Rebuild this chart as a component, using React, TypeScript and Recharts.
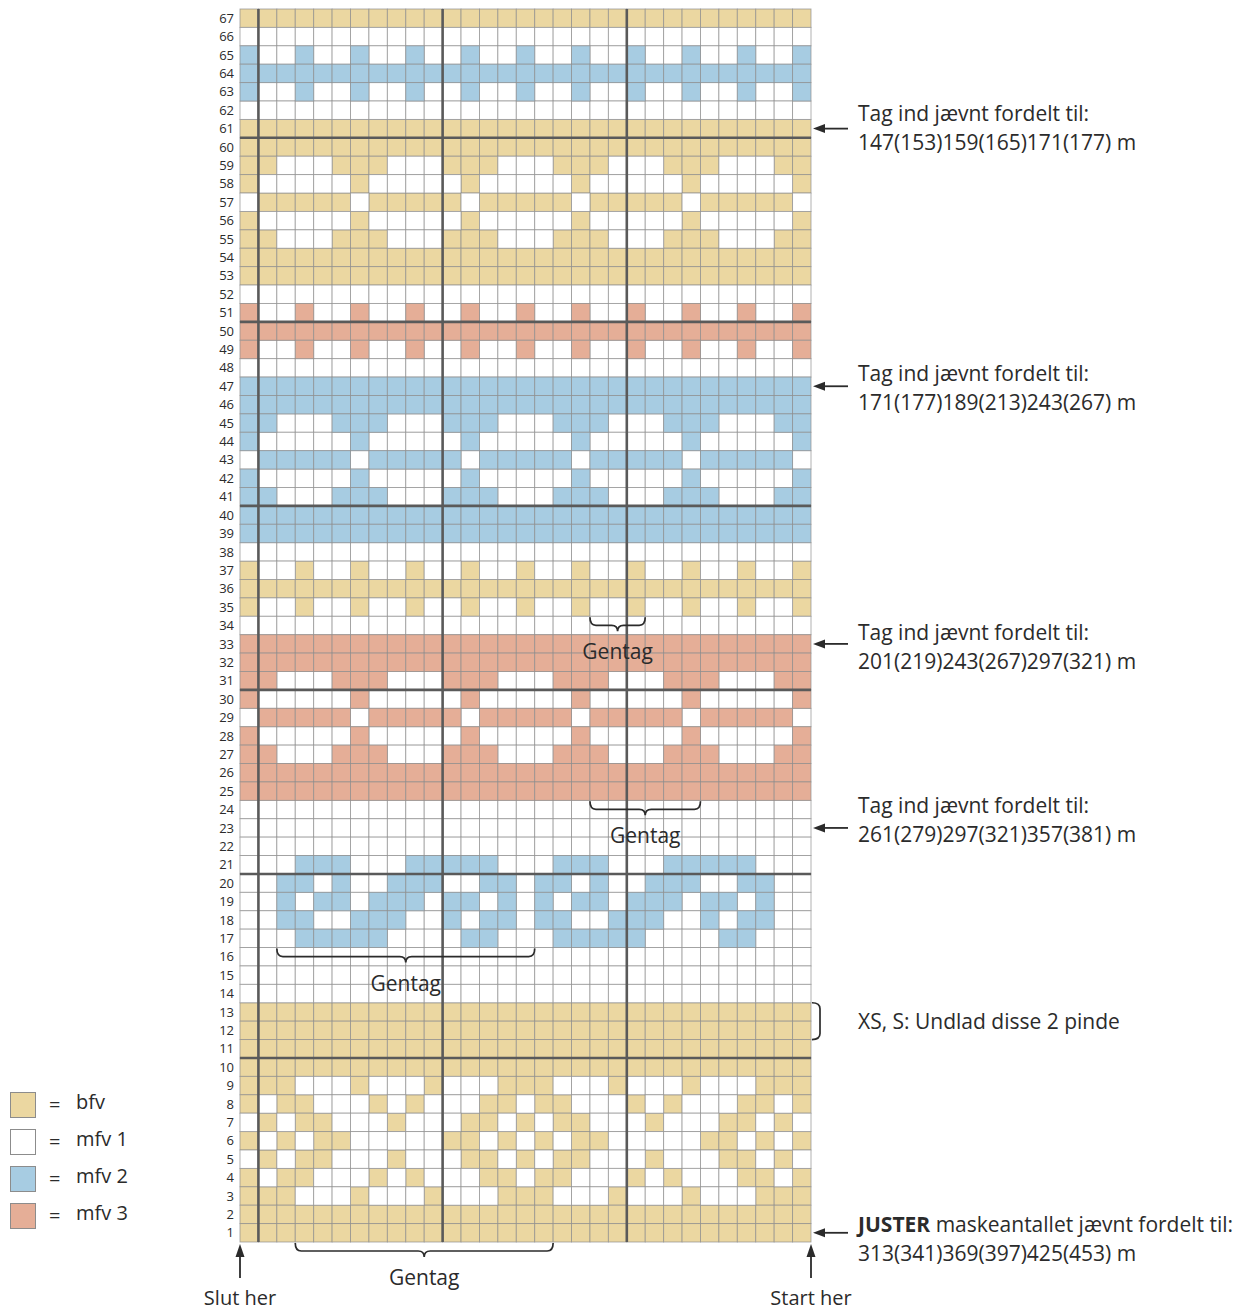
import React from 'react';
import { ScatterChart, Scatter, XAxis, YAxis, ReferenceDot, Legend } from 'recharts';

const FONT = '"Open Sans", Lato, sans-serif';
const INK = '#2b2b2b';
const HEAVY = '#5a5a5a';
const NOTE_SIZE = 21;

// one string per row, from row 67 (top) down to row 1, left to right
// Y = bfv, W = mfv 1, B = mfv 2, R = mfv 3
const chartRows = [
  'YYYYYYYYYYYYYYYYYYYYYYYYYYYYYYY', // 67
  'WWWWWWWWWWWWWWWWWWWWWWWWWWWWWWW', // 66
  'BWWBWWBWWBWWBWWBWWBWWBWWBWWBWWB', // 65
  'BBBBBBBBBBBBBBBBBBBBBBBBBBBBBBB', // 64
  'BWWBWWBWWBWWBWWBWWBWWBWWBWWBWWB', // 63
  'WWWWWWWWWWWWWWWWWWWWWWWWWWWWWWW', // 62
  'YYYYYYYYYYYYYYYYYYYYYYYYYYYYYYY', // 61
  'YYYYYYYYYYYYYYYYYYYYYYYYYYYYYYY', // 60
  'YYWWWYYYWWWYYYWWWYYYWWWYYYWWWYY', // 59
  'YWWWWWYWWWWWYWWWWWYWWWWWYWWWWWY', // 58
  'WYYYYYWYYYYYWYYYYYWYYYYYWYYYYYW', // 57
  'YWWWWWYWWWWWYWWWWWYWWWWWYWWWWWY', // 56
  'YYWWWYYYWWWYYYWWWYYYWWWYYYWWWYY', // 55
  'YYYYYYYYYYYYYYYYYYYYYYYYYYYYYYY', // 54
  'YYYYYYYYYYYYYYYYYYYYYYYYYYYYYYY', // 53
  'WWWWWWWWWWWWWWWWWWWWWWWWWWWWWWW', // 52
  'RWWRWWRWWRWWRWWRWWRWWRWWRWWRWWR', // 51
  'RRRRRRRRRRRRRRRRRRRRRRRRRRRRRRR', // 50
  'RWWRWWRWWRWWRWWRWWRWWRWWRWWRWWR', // 49
  'WWWWWWWWWWWWWWWWWWWWWWWWWWWWWWW', // 48
  'BBBBBBBBBBBBBBBBBBBBBBBBBBBBBBB', // 47
  'BBBBBBBBBBBBBBBBBBBBBBBBBBBBBBB', // 46
  'BBWWWBBBWWWBBBWWWBBBWWWBBBWWWBB', // 45
  'BWWWWWBWWWWWBWWWWWBWWWWWBWWWWWB', // 44
  'WBBBBBWBBBBBWBBBBBWBBBBBWBBBBBW', // 43
  'BWWWWWBWWWWWBWWWWWBWWWWWBWWWWWB', // 42
  'BBWWWBBBWWWBBBWWWBBBWWWBBBWWWBB', // 41
  'BBBBBBBBBBBBBBBBBBBBBBBBBBBBBBB', // 40
  'BBBBBBBBBBBBBBBBBBBBBBBBBBBBBBB', // 39
  'WWWWWWWWWWWWWWWWWWWWWWWWWWWWWWW', // 38
  'YWWYWWYWWYWWYWWYWWYWWYWWYWWYWWY', // 37
  'YYYYYYYYYYYYYYYYYYYYYYYYYYYYYYY', // 36
  'YWWYWWYWWYWWYWWYWWYWWYWWYWWYWWY', // 35
  'WWWWWWWWWWWWWWWWWWWWWWWWWWWWWWW', // 34
  'RRRRRRRRRRRRRRRRRRRRRRRRRRRRRRR', // 33
  'RRRRRRRRRRRRRRRRRRRRRRRRRRRRRRR', // 32
  'RRWWWRRRWWWRRRWWWRRRWWWRRRWWWRR', // 31
  'RWWWWWRWWWWWRWWWWWRWWWWWRWWWWWR', // 30
  'WRRRRRWRRRRRWRRRRRWRRRRRWRRRRRW', // 29
  'RWWWWWRWWWWWRWWWWWRWWWWWRWWWWWR', // 28
  'RRWWWRRRWWWRRRWWWRRRWWWRRRWWWRR', // 27
  'RRRRRRRRRRRRRRRRRRRRRRRRRRRRRRR', // 26
  'RRRRRRRRRRRRRRRRRRRRRRRRRRRRRRR', // 25
  'WWWWWWWWWWWWWWWWWWWWWWWWWWWWWWW', // 24
  'WWWWWWWWWWWWWWWWWWWWWWWWWWWWWWW', // 23
  'WWWWWWWWWWWWWWWWWWWWWWWWWWWWWWW', // 22
  'WWWBBBWWWBBBBBWWWBBBWWWBBBBBWWW', // 21
  'WWBBWBWWBBBWWBBWBBWBWWBBBWWBBWW', // 20
  'WWBWBBWBBBWBBWBWBWBBWBBBWBBWBWW', // 19
  'WWBBWWBBBWWBWBBWBBWWBBBWWBWBBWW', // 18
  'WWWBBBBBWWWWBBWWWBBBBBWWWWBBWWW', // 17
  'WWWWWWWWWWWWWWWWWWWWWWWWWWWWWWW', // 16
  'WWWWWWWWWWWWWWWWWWWWWWWWWWWWWWW', // 15
  'WWWWWWWWWWWWWWWWWWWWWWWWWWWWWWW', // 14
  'YYYYYYYYYYYYYYYYYYYYYYYYYYYYYYY', // 13
  'YYYYYYYYYYYYYYYYYYYYYYYYYYYYYYY', // 12
  'YYYYYYYYYYYYYYYYYYYYYYYYYYYYYYY', // 11
  'YYYYYYYYYYYYYYYYYYYYYYYYYYYYYYY', // 10
  'YYYWWWYWWWYWWWYYYWWWYWWWYWWWYYY', // 9
  'YWYYWWWYWYWWWYYWYYWWWYWYWWWYYWY', // 8
  'WYWYYWWWYWWWYYWYWYYWWWYWWWYYWYW', // 7
  'YWYWYYWWWWWYYWYWYWYYWWWWWYYWYWY', // 6
  'WYWYYWWWYWWWYYWYWYYWWWYWWWYYWYW', // 5
  'YWYYWWWYWYWWWYYWYYWWWYWYWWWYYWY', // 4
  'YYYWWWYWWWYWWWYYYWWWYWWWYWWWYYY', // 3
  'YYYYYYYYYYYYYYYYYYYYYYYYYYYYYYY', // 2
  'YYYYYYYYYYYYYYYYYYYYYYYYYYYYYYY', // 1
];

const colourKeys = ['Y', 'W', 'B', 'R'];
const colourNames = ['bfv', 'mfv 1', 'mfv 2', 'mfv 3'];
const colourFills = ['#ebd7a1', '#ffffff', '#a7cce2', '#e5ae97'];

const heavyCols = [1, 11, 21];
const heavyRows = [10, 20, 30, 40, 50, 60];

// "Tag ind" notes on the right
const noteRows = [61, 47, 33, 23, 1];
const noteTextY = [60.55, 46.45, 32.35, 22.95, 0.2];
const noteBold = ['', '', '', '', 'JUSTER'];
const noteLine1 = [
  'Tag ind jævnt fordelt til:',
  'Tag ind jævnt fordelt til:',
  'Tag ind jævnt fordelt til:',
  'Tag ind jævnt fordelt til:',
  ' maskeantallet jævnt fordelt til:',
];
const noteLine2 = [
  '147(153)159(165)171(177) m',
  '171(177)189(213)243(267) m',
  '201(219)243(267)297(321) m',
  '261(279)297(321)357(381) m',
  '313(341)369(397)425(453) m',
];

// "Gentag" repeat braces (column span, row line they hang from)
const repeatFrom = [19, 19, 2, 3];
const repeatTo = [22, 25, 16, 17];
const repeatTop = [34, 24, 16, 0];

const skipFrom = 11;
const skipTo = 13;
const skipText = 'XS, S: Undlad disse 2 pinde';

const W = 1250;
const H = 1314;
const M = { top: 9, right: 439, bottom: 72, left: 200 };
const Y_AXIS_W = 40;
const COLS = chartRows[0].length;
const ROWS = chartRows.length;
const CELL_W = (W - M.left - M.right - Y_AXIS_W) / COLS;
const CELL_H = (H - M.top - M.bottom) / ROWS;

const cellSeries = colourKeys.map((key) => {
  const pts: { x: number; y: number }[] = [];
  chartRows.forEach((line, i) => {
    const row = ROWS - i;
    line.split('').forEach((ch, c) => {
      if (ch === key) pts.push({ x: c + 0.5, y: row - 0.5 });
    });
  });
  return pts;
});

const rowTicks = chartRows.map((_, i) => ROWS - i - 0.5);

const cellShape = (fill: string) => (p: any) => (
  <rect
    x={p.cx - CELL_W / 2}
    y={p.cy - CELL_H / 2}
    width={CELL_W}
    height={CELL_H}
    fill={fill}
    stroke="#8c8c8c"
    strokeOpacity={0.75}
    strokeWidth={0.9}
  />
);

// heavy divider lines, anchored at the grid edge through the axis scales
const vLine = (p: any) => (
  <line x1={p.cx} y1={p.cy} x2={p.cx} y2={p.cy - ROWS * CELL_H} stroke={HEAVY} strokeWidth={2.6} />
);
const hLine = (p: any) => (
  <line x1={p.cx} y1={p.cy} x2={p.cx + COLS * CELL_W} y2={p.cy} stroke={HEAVY} strokeWidth={2.6} />
);

const leftArrow = (p: any) => (
  <g>
    <line x1={p.cx + 37} y1={p.cy} x2={p.cx + 10} y2={p.cy} stroke={INK} strokeWidth={1.8} />
    <path d={`M${p.cx + 2},${p.cy} L${p.cx + 14},${p.cy - 4.5} L${p.cx + 14},${p.cy + 4.5} Z`} fill={INK} />
  </g>
);

const noteText = (i: number) => (p: any) => (
  <g fontFamily={FONT} fontSize={NOTE_SIZE} fill={INK}>
    <text x={p.cx + 47} y={p.cy - 14.5} dominantBaseline="central">
      {noteBold[i] ? <tspan fontWeight="bold">{noteBold[i]}</tspan> : null}
      <tspan>{noteLine1[i]}</tspan>
    </text>
    <text x={p.cx + 47} y={p.cy + 14.5} dominantBaseline="central">
      {noteLine2[i]}
    </text>
  </g>
);

const repeatBrace = (i: number) => (p: any) => {
  const half = ((repeatTo[i] - repeatFrom[i]) / 2) * CELL_W;
  const x1 = p.cx - half;
  const x2 = p.cx + half;
  const y0 = p.cy + 1;
  const yh = y0 + 8;
  const d = `M${x1},${y0} Q${x1},${yh} ${x1 + 6},${yh} L${p.cx - 6},${yh} Q${p.cx},${yh} ${p.cx},${yh + 6} Q${p.cx},${yh} ${p.cx + 6},${yh} L${x2 - 6},${yh} Q${x2},${yh} ${x2},${y0}`;
  return (
    <g>
      <path d={d} fill="none" stroke={INK} strokeWidth={1.7} />
      <text x={p.cx} y={p.cy + 35} textAnchor="middle" dominantBaseline="central" fontFamily={FONT} fontSize={NOTE_SIZE} fill={INK}>
        Gentag
      </text>
    </g>
  );
};

const skipBrace = (p: any) => {
  const half = ((skipTo - skipFrom) / 2) * CELL_H;
  const x = p.cx + 1;
  const y1 = p.cy - half;
  const y2 = p.cy + half;
  const d = `M${x},${y1} Q${x + 8},${y1} ${x + 8},${y1 + 6} L${x + 8},${y2 - 6} Q${x + 8},${y2} ${x},${y2}`;
  return (
    <g>
      <path d={d} fill="none" stroke={INK} strokeWidth={1.7} />
      <text x={p.cx + 47} y={p.cy} dominantBaseline="central" fontFamily={FONT} fontSize={NOTE_SIZE} fill={INK}>
        {skipText}
      </text>
    </g>
  );
};

const upArrow = (label: string) => (p: any) => (
  <g>
    <line x1={p.cx} y1={p.cy + 36} x2={p.cx} y2={p.cy + 12} stroke={INK} strokeWidth={1.8} />
    <path d={`M${p.cx},${p.cy + 2} L${p.cx - 4.5},${p.cy + 15} L${p.cx + 4.5},${p.cy + 15} Z`} fill={INK} />
    <text x={p.cx} y={p.cy + 55} textAnchor="middle" dominantBaseline="central" fontFamily={FONT} fontSize={20} fill={INK}>
      {label}
    </text>
  </g>
);

const renderLegend = (props: any) => {
  const items = props.payload || [];
  return (
    <div style={{ fontFamily: FONT, fontSize: 20, color: INK }}>
      {items.map((it: any) => (
        <div key={it.value} style={{ display: 'flex', alignItems: 'center', height: 37 }}>
          <span
            style={{
              display: 'inline-block',
              width: 24,
              height: 24,
              background: it.color,
              border: '1px solid #8c8c8c',
            }}
          />
          <span style={{ marginLeft: 13, width: 20 }}>=</span>
          <span style={{ marginLeft: 7, marginTop: -6 }}>{it.value}</span>
        </div>
      ))}
    </div>
  );
};

export default function App() {
  return (
    <div style={{ margin: -8, width: W, height: H, position: 'relative', background: '#fff' }}>
      <ScatterChart width={W} height={H} margin={M}>
        <XAxis type="number" dataKey="x" domain={[0, COLS]} hide />
        <YAxis
          type="number"
          dataKey="y"
          domain={[0, ROWS]}
          ticks={rowTicks}
          interval={0}
          width={Y_AXIS_W}
          tickFormatter={(v: number) => String(v + 0.5)}
          axisLine={false}
          tickLine={false}
          tickSize={4}
          tick={{ fontSize: 13, fill: INK, fontFamily: FONT }}
        />
        {colourKeys.map((key, i) => (
          <Scatter
            key={key}
            name={colourNames[i]}
            data={cellSeries[i]}
            fill={colourFills[i]}
            shape={cellShape(colourFills[i])}
            isAnimationActive={false}
          />
        ))}
        {heavyRows.map((r) => (
          <ReferenceDot key={`r${r}`} x={0} y={r} r={1} ifOverflow="visible" shape={hLine} />
        ))}
        {heavyCols.map((c) => (
          <ReferenceDot key={`c${c}`} x={c} y={0} r={1} ifOverflow="visible" shape={vLine} />
        ))}
        {noteRows.map((r) => (
          <ReferenceDot key={`a${r}`} x={COLS} y={r - 0.5} r={1} ifOverflow="visible" shape={leftArrow} />
        ))}
        {noteTextY.map((y, i) => (
          <ReferenceDot key={`t${i}`} x={COLS} y={y} r={1} ifOverflow="visible" shape={noteText(i)} />
        ))}
        {repeatFrom.map((f, i) => (
          <ReferenceDot
            key={`g${i}`}
            x={(f + repeatTo[i]) / 2}
            y={repeatTop[i]}
            r={1}
            ifOverflow="visible"
            shape={repeatBrace(i)}
          />
        ))}
        <ReferenceDot x={COLS} y={(skipFrom + skipTo) / 2} r={1} ifOverflow="visible" shape={skipBrace} />
        <ReferenceDot x={0} y={0} r={1} ifOverflow="visible" shape={upArrow('Slut her')} />
        <ReferenceDot x={COLS} y={0} r={1} ifOverflow="visible" shape={upArrow('Start her')} />
        <Legend
          layout="vertical"
          align="center"
          verticalAlign="middle"
          content={renderLegend}
          wrapperStyle={{ left: 10, top: 1086, width: 160, height: 150 }}
        />
      </ScatterChart>
    </div>
  );
}
